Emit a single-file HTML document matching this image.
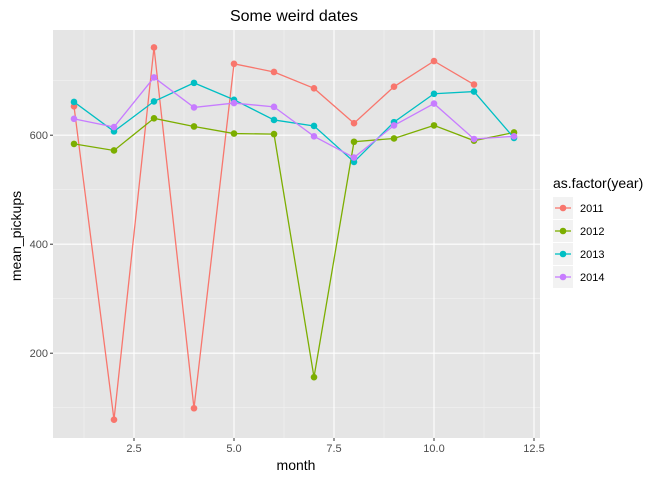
<!DOCTYPE html>
<html><head><meta charset="utf-8"><style>body{margin:0;background:#fff}svg{font-family:"Liberation Sans",sans-serif}</style></head>
<body>
<svg id="c" width="672" height="480"></svg>
<script>
const months=[1,2,3,4,5,6,7,8,9,10,11,12];
const years=["2011","2012","2013","2014"];
const colors=["#F8766D","#7CAE00","#00BFC4","#C77CFF"];
const s2011=[653,78,761,99,731,716,686,622,689,736,693];
const s2012=[584,572,631,616,603,602,156,588,594,618,590,605];
const s2013=[661,607,662,696,665,628,617,551,624,676,680,595];
const s2014=[630,615,706,651,659,652,598,559,618,658,593,598];
const series=[s2011,s2012,s2013,s2014];
const xTicks=[2.5,5,7.5,10,12.5];
const xTickLabels=["2.5","5.0","7.5","10.0","12.5"];
const yTicks=[200,400,600];
const L=53,R=540,T=30,B=438;
const X=m=>74+(m-1)*40;
const Y=v=>135.2-(v-600)*0.545;
const svg=document.getElementById('c');const NS="http://www.w3.org/2000/svg";
function mk(t,a,p){const e=document.createElementNS(NS,t);for(const k in a)e.setAttribute(k,a[k]);(p||svg).appendChild(e);return e;}
const panel=mk('rect',{x:L,y:T,width:R-L,height:B-T,fill:'#E5E5E5'});


for(let i=0;i<xTicks.length;i++){const m=xTicks[i]-1.25;mk('line',{x1:X(m),x2:X(m),y1:T,y2:B,stroke:'#F2F2F2','stroke-width':0.6});}
[100,300,500,700].forEach(v=>mk('line',{x1:L,x2:R,y1:Y(v),y2:Y(v),stroke:'#F2F2F2','stroke-width':0.6}));
xTicks.forEach((t,i)=>{mk('line',{x1:X(t),x2:X(t),y1:T,y2:B,stroke:'#fff','stroke-width':1.1});
mk('line',{x1:X(t),x2:X(t),y1:B,y2:B+3,stroke:'#333'});
const tx=mk('text',{x:X(t),y:B+14,'text-anchor':'middle','font-size':11,fill:'#4D4D4D'});tx.textContent=xTickLabels[i];

});
yTicks.forEach(v=>{mk('line',{x1:L,x2:R,y1:Y(v),y2:Y(v),stroke:'#fff','stroke-width':1.1});
mk('line',{x1:L-3,x2:L,y1:Y(v),y2:Y(v),stroke:'#333'});
const tx=mk('text',{x:L-5,y:Y(v)+4,'text-anchor':'end','font-size':11,fill:'#4D4D4D'});tx.textContent=v;

});
series.forEach((s,si)=>{const g=mk('g',{});


const pts=s.map((v,i)=>X(months[i])+','+Y(v)).join(' ');
mk('polyline',{points:pts,fill:'none',stroke:colors[si],'stroke-width':1.3},g);
s.forEach((v,i)=>{const c=mk('circle',{cx:X(months[i]),cy:Y(v),r:3.3,fill:colors[si]},g);

});});
const ti=mk('text',{x:294,y:21,'text-anchor':'middle','font-size':16,fill:'#000'});ti.textContent='Some weird dates';


const xl=mk('text',{x:296,y:470,'text-anchor':'middle','font-size':14,fill:'#000'});xl.textContent='month';


const yl=mk('text',{x:0,y:0,'text-anchor':'middle','font-size':14,fill:'#000',transform:'translate(21,236) rotate(-90)'});yl.textContent='mean_pickups';


const lt=mk('text',{x:553,y:188,'font-size':14,fill:'#000'});lt.textContent='as.factor(year)';


years.forEach((yr,i)=>{const g=mk('g',{});


const cy=208+i*23;
mk('rect',{x:553,y:cy-11,width:20,height:22,fill:'#F2F2F2'},g);
mk('line',{x1:555,x2:571,y1:cy,y2:cy,stroke:colors[i],'stroke-width':1.3},g);
mk('circle',{cx:563,cy:cy,r:3.3,fill:colors[i]},g);
const t=mk('text',{x:580,y:cy+4,'font-size':11,fill:'#000'},g);t.textContent=yr;});
</script>
</body></html>
